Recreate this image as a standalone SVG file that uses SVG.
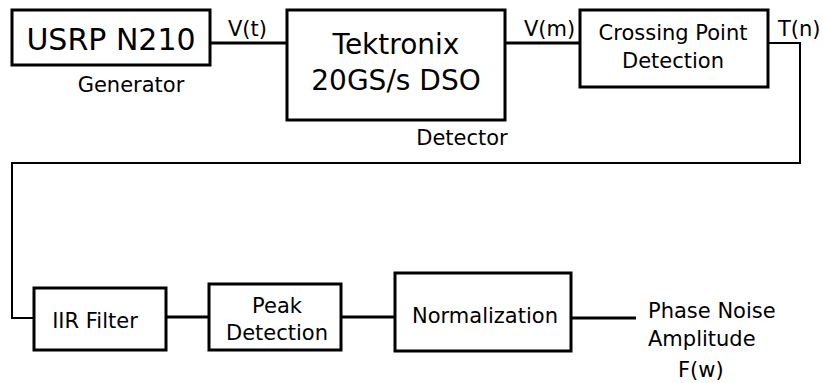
<svg xmlns="http://www.w3.org/2000/svg" width="823" height="383" viewBox="0 0 823 383">
<style>
.box{fill:#fff;stroke:#000;stroke-width:3}
.ln{fill:none;stroke:#000;stroke-width:3}
.thin{fill:none;stroke:#000;stroke-width:2}
text{font-family:"DejaVu Sans",sans-serif;fill:#000}
.s{font-size:21px}
.m{font-size:21px}
.c{text-anchor:middle}
</style>
<rect width="823" height="383" fill="#fff"/>
<g id="connectors">
<line class="ln" x1="210" y1="43" x2="287" y2="43"/>
<line class="ln" x1="505" y1="43" x2="580" y2="43"/>
<polyline class="thin" points="768,43 800,43 800,163 12,163 12,318 34,318"/>
<line class="ln" x1="166" y1="317" x2="209" y2="317"/>
<line class="ln" x1="341" y1="317" x2="395" y2="317"/>
<line class="ln" x1="571" y1="318" x2="636" y2="318"/>
<text class="s" x="228" y="36">V(t)</text>
<text class="s" x="524" y="36">V(m)</text>
<text class="s" x="778" y="36">T(n)</text>
</g>
<g id="usrp">
<rect class="box" x="12" y="10" width="198" height="55"/>
<text class="c" x="111" y="50" font-size="30">USRP N210</text>
<text class="s c" x="131" y="92">Generator</text>
</g>
<g id="dso">
<rect class="box" x="287" y="10" width="218" height="110"/>
<text class="c" x="396" y="54" font-size="28">Tektronix</text>
<text class="c" x="396" y="90" font-size="28">20GS/s DSO</text>
<text class="s c" x="462" y="145">Detector</text>
</g>
<g id="crossing">
<rect class="box" x="580" y="10" width="188" height="77"/>
<text class="m c" x="673" y="40">Crossing Point</text>
<text class="m c" x="673" y="68">Detection</text>
</g>
<g id="iir">
<rect class="box" x="34" y="288" width="132" height="62"/>
<text class="m c" x="95" y="328">IIR Filter</text>
</g>
<g id="peak">
<rect class="box" x="209" y="284" width="132" height="66"/>
<text class="m c" x="277" y="313">Peak</text>
<text class="m c" x="277" y="340">Detection</text>
</g>
<g id="norm">
<rect class="box" x="395" y="273" width="176" height="78"/>
<text class="m c" x="485" y="323">Normalization</text>
</g>
<g id="output">
<text class="m" x="648" y="318">Phase Noise</text>
<text class="m" x="648" y="346">Amplitude</text>
<text class="m" x="678" y="377">F(w)</text>
</g>
</svg>
